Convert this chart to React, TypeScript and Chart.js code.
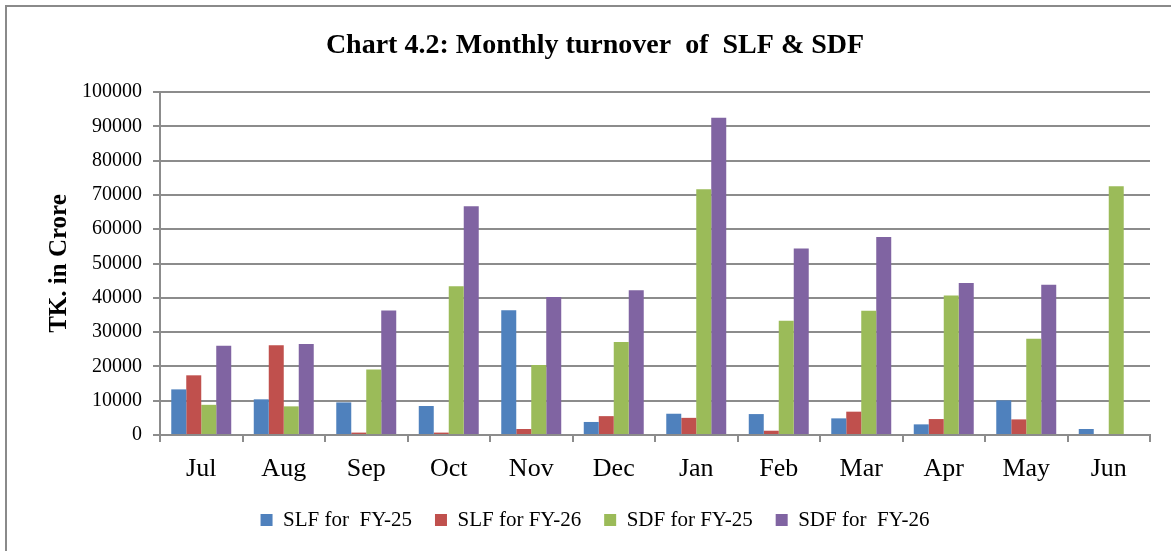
import React, { useEffect, useRef } from "react";
import { Chart, registerables } from "chart.js";

Chart.register(...registerables);

const months = ["Jul", "Aug", "Sep", "Oct", "Nov", "Dec", "Jan", "Feb", "Mar", "Apr", "May", "Jun"];
const slfFY25 = [13300, 10400, 9500, 8450, 36400, 3800, 6200, 6100, 4850, 3100, 10100, 1750];
const slfFY26 = [17400, 26200, 700, 700, 1750, 5500, 5000, 1250, 6800, 4650, 4550, 0];
const sdfFY25 = [8800, 8350, 19100, 43400, 20400, 27100, 71650, 33300, 36200, 40700, 28050, 72500];
const sdfFY26 = [26000, 26500, 36300, 66700, 40200, 42200, 92500, 54400, 57700, 44300, 43800, 0];
const seriesLabels = ["SLF for  FY-25", "SLF for FY-26", "SDF for FY-25", "SDF for  FY-26"];
const seriesColors = ["#4F81BD", "#C0504D", "#9BBB59", "#8064A2"];
const yTicks = [0, 10000, 20000, 30000, 40000, 50000, 60000, 70000, 80000, 90000, 100000];

const SERIF = "'Liberation Serif', 'Times New Roman', serif";
const GRID = "#8c8c8c";

export default function App() {
  const ref = useRef<HTMLCanvasElement | null>(null);

  useEffect(() => {
    if (!ref.current) return;
    const values = [slfFY25, slfFY26, sdfFY25, sdfFY26];
    const chart = new Chart(ref.current, {
      type: "bar",
      data: {
        labels: months,
        datasets: values.map((v, i) => ({
          label: seriesLabels[i],
          data: v,
          backgroundColor: seriesColors[i],
          borderWidth: 0,
          categoryPercentage: 0.727,
          barPercentage: 1,
        })),
      },
      options: {
        responsive: false,
        animation: false,
        layout: { padding: { left: 40, right: 21, top: 0, bottom: 10.5 } },
        plugins: {
          title: {
            display: true,
            text: "Chart 4.2: Monthly turnover  of  SLF & SDF",
            color: "#000",
            font: { family: SERIF, size: 28, weight: "bold" },
            padding: { top: 29, bottom: 29.4 },
          },
          legend: {
            position: "bottom",
            labels: {
              color: "#000",
              font: { family: SERIF, size: 21 },
              boxWidth: 12,
              boxHeight: 12,
              padding: 23,
            },
          },
          tooltip: { enabled: false },
        },
        scales: {
          x: {
            grid: {
              display: true,
              drawOnChartArea: false,
              drawTicks: true,
              tickLength: 7,
              offset: true,
              color: GRID,
              lineWidth: 2,
            },
            border: { display: true, color: GRID, width: 2 },
            ticks: {
              color: "#000",
              font: { family: SERIF, size: 26 },
              padding: 12,
              maxRotation: 0,
            },
            afterFit: (scale: any) => {
              scale.height = 51.5;
            },
          },
          y: {
            min: 0,
            max: 100000,
            afterBuildTicks: (scale: any) => {
              scale.ticks = yTicks.map((v) => ({ value: v }));
            },
            grid: {
              color: GRID,
              lineWidth: 2,
              drawTicks: true,
              tickLength: 7,
            },
            border: { display: true, color: GRID, width: 2 },
            ticks: {
              color: "#000",
              font: { family: SERIF, size: 20 },
              padding: 11,
              callback: (v: any) => String(v),
            },
            title: {
              display: true,
              text: "TK. in Crore",
              color: "#000",
              font: { family: SERIF, size: 25, weight: "bold" },
              padding: { top: 5, bottom: 0 },
            },
            afterFit: (scale: any) => {
              scale.width = 120;
            },
          },
        },
      },
    });
    return () => chart.destroy();
  }, []);

  return (
    <div style={{ position: "absolute", left: 0, top: 0, width: 1171, height: 551, overflow: "hidden", background: "#fff" }}>
      <div
        style={{
          position: "absolute",
          left: 5,
          top: 5,
          width: 1170,
          height: 560,
          border: "2px solid #8a8a8a",
          boxSizing: "border-box",
        }}
      />
      <canvas ref={ref} width={1171} height={551} style={{ position: "absolute", left: 0, top: 0 }} />
    </div>
  );
}
